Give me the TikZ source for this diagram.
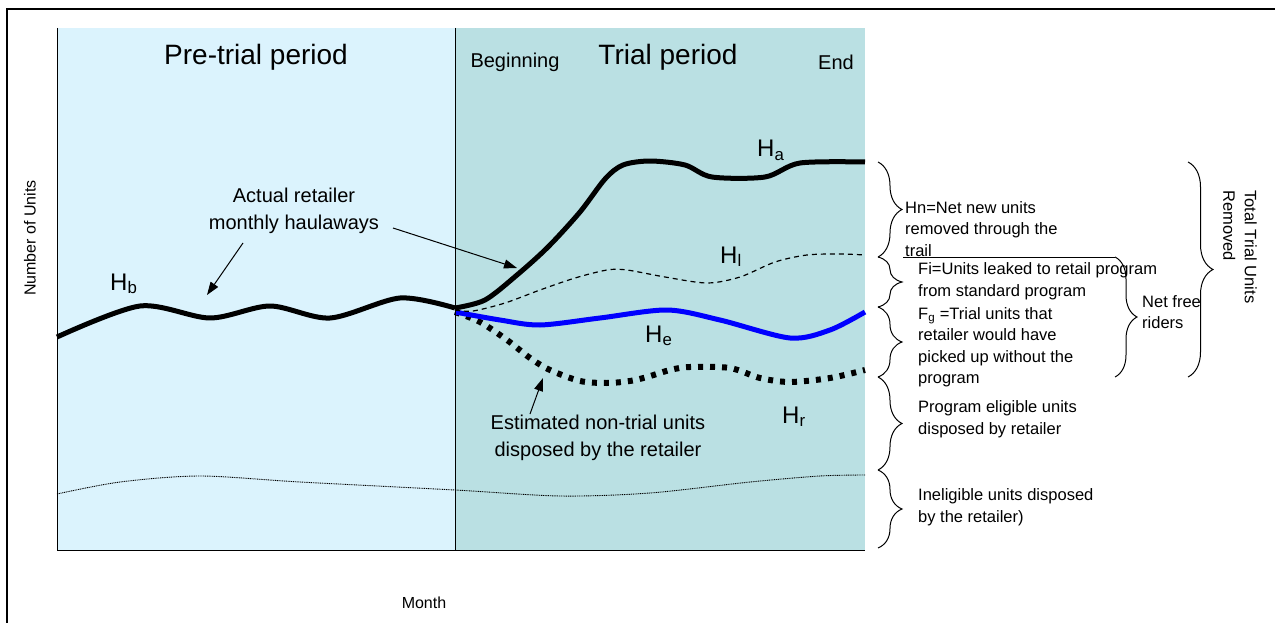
\documentclass[tikz,border=0pt]{standalone}
\usepackage{fontspec}
\setmainfont{Liberation Sans}
\usetikzlibrary{decorations.pathreplacing,arrows.meta}
\definecolor{precol}{RGB}{219,243,253}
\definecolor{trialcol}{RGB}{186,224,227}
\tikzset{
  bigtxt/.style={font=\fontsize{28}{34}\selectfont, inner sep=0pt},
  midtxt/.style={font=\fontsize{20}{26.5}\selectfont, align=center, inner sep=0pt},
  hlab/.style={font=\fontsize{24}{28}\selectfont, inner sep=0pt, anchor=base west},
  sidetxt/.style={font=\fontsize{16.5}{21.5}\selectfont, align=left, anchor=west, inner sep=0pt},
  axtxt/.style={font=\fontsize{16}{20}\selectfont, inner sep=0pt},
  brc/.style={decorate, decoration={brace, amplitude=#1}, line width=1pt},
  arr/.style={-{Triangle[length=13pt,width=9pt]}, line width=1pt},
  heavy/.style={line width=5pt, line join=round},
}
\begin{document}
\begin{tikzpicture}[x=1pt,y=-1pt]
\useasboundingbox (0,0) rectangle (1275,623);
% outer frame
\draw[line width=2pt] (7,623) -- (7,9) -- (1275,9);
% background panels
\fill[precol] (57,28) rectangle (455,550);
\fill[trialcol] (455,28) rectangle (865,550);
% curves
\draw[line width=0.9pt, dash pattern=on 1pt off 0.8pt] plot[smooth] coordinates {(57,494) (120,482) (200,476) (300,482) (455,490) (560,496) (650,493) (750,482) (820,476) (865,475)};
\draw[line width=6pt, dash pattern=on 5pt off 7pt] plot[smooth] coordinates {(455,312) (480,322) (507,340) (530,358) (550,370) (580,381) (607,383) (630,381) (647,377) (670,370) (690,367) (730,368) (760,378) (790,382) (830,378) (865,370)};
\draw[heavy, blue] plot[smooth] coordinates {(455,312) (500,320) (540,325) (600,318) (667,310) (720,320) (790,338) (830,330) (865,312)};
\draw[line width=1.2pt, dash pattern=on 5pt off 4pt] plot[smooth] coordinates {(455,310) (473,311) (505,303) (540,290) (575,278) (607,270) (627,270) (665,277) (707,283) (740,277) (775,262) (807,255) (840,254) (865,255)};
\draw[heavy] plot[smooth] coordinates {(455,308) (485,300) (517,275) (548,247) (580,212) (605,179) (623,165) (650,161) (685,165) (712,177) (765,177) (800,163) (865,162)};
\draw[heavy] plot[smooth] coordinates {(57,337) (140,306) (210,318) (270,306) (330,318) (400,298) (455,308)};
% panel lines
\draw[line width=1pt] (57,28) -- (57,550) -- (865,550);
\draw[line width=1pt] (455,28) -- (455,550);
% titles
\node[bigtxt] (pre) at (256,57) {Pre-trial period};
\node[bigtxt] (trial) at (668,57) {Trial period};
\node[midtxt] (beg) at (515,62) {Beginning};
\node[midtxt] (end) at (836,62) {End};
% curve labels
\node[hlab] (hb) at (110,290) {H\textsubscript{b}};
\node[hlab] (ha) at (757,157) {H\textsubscript{a}};
\node[hlab] (hl) at (720,263) {H\textsubscript{l}};
\node[hlab] (he) at (645,342) {H\textsubscript{e}};
\node[hlab] (hr) at (782,423) {H\textsubscript{r}};
% annotations
\node[midtxt] (actual) at (294,211) {Actual retailer\\monthly haulaways};
\coordinate (a1s) at (243,243);
\coordinate (a1e) at (207,295);
\coordinate (a2s) at (393,228);
\coordinate (a2e) at (517,268);
\draw[arr] (a1s) -- (a1e);
\draw[arr] (a2s) -- (a2e);
\node[midtxt] (est) at (598,438) {Estimated non-trial units\\disposed by the retailer};
\coordinate (a3s) at (530,414);
\coordinate (a3e) at (543,378);
\draw[arr] (a3s) -- (a3e);
% axis labels
\node[axtxt, rotate=90] (ylab) at (30,238) {Number of Units};
\node[axtxt] (xlab) at (424,603) {Month};
% braces
\coordinate (b1t) at (878,162);
\coordinate (b1b) at (878,257);
\coordinate (b2b) at (878,307);
\coordinate (b3b) at (878,377);
\coordinate (b4b) at (878,470);
\coordinate (b5b) at (878,548);
\draw[brc=24pt] (b1t) -- (b1b);
\draw[brc=24pt] (b1b) -- (b2b);
\draw[brc=24pt] (b2b) -- (b3b);
\draw[brc=24pt] (b3b) -- (b4b);
\draw[brc=24pt] (b4b) -- (b5b);
\coordinate (nfl) at (903,257);
\coordinate (nft) at (1115,257);
\coordinate (nfb) at (1115,377);
\draw[line width=1pt] (nfl) -- (nft);
\draw[brc=22pt] (nft) -- (nfb);
\coordinate (ttt) at (1188,162);
\coordinate (ttb) at (1188,377);
\draw[brc=25pt] (ttt) -- (ttb);
% side texts
\node[sidetxt] (hn) at (905,229) {Hn=Net new units\\removed through the\\trail};
\node[sidetxt] (fi) at (918,281) {Fi=Units leaked to retail program\\from standard program};
\node[sidetxt] (fg) at (918,347) {F\textsubscript{g} =Trial units that\\retailer would have\\picked up without the\\program};
\node[sidetxt] (pe) at (918,419) {Program eligible units\\disposed by retailer};
\node[sidetxt] (ie) at (918,507) {Ineligible units disposed\\by the retailer)};
\node[sidetxt] (nf) at (1142,312) {Net free\\riders};
\node[sidetxt, rotate=-90] (tot) at (1240,190) {Total Trial Units\\Removed};
\end{tikzpicture}
\end{document}
